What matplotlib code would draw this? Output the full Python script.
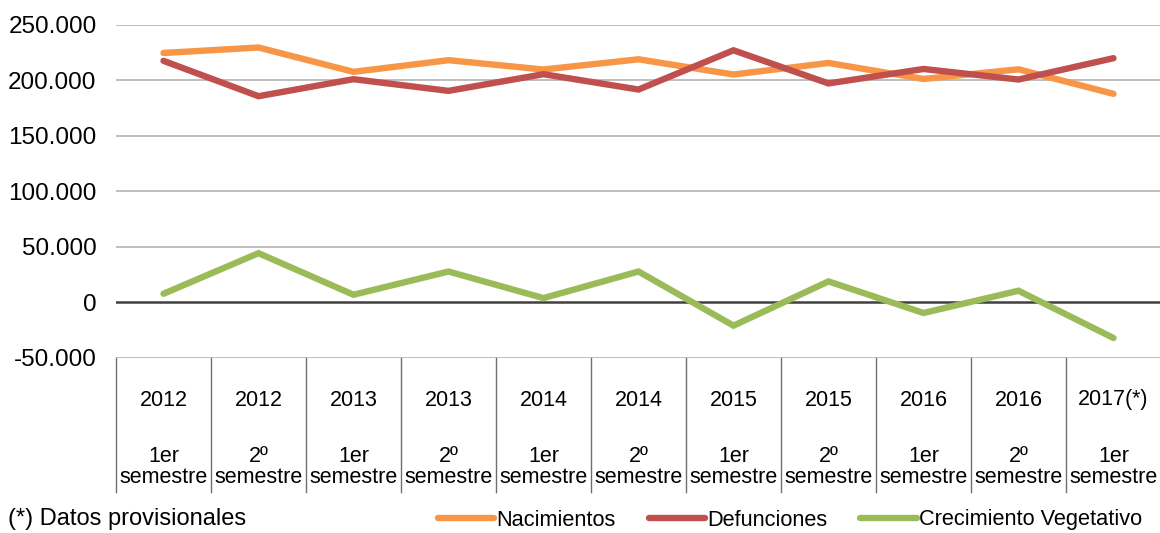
import numpy as np
import matplotlib
matplotlib.use("Agg")
from matplotlib import pyplot as plt
import matplotlib.transforms as mtransforms

plt.rcParams['font.family'] = ['Liberation Sans', 'DejaVu Sans']

# Datos (lectura aproximada del gráfico)
anios = ["2012", "2012", "2013", "2013", "2014", "2014", "2015", "2015", "2016", "2016", "2017(*)"]
semestres = ["1er\nsemestre", "2º\nsemestre"] * 5 + ["1er\nsemestre"]
nacimientos = [224400, 229300, 207400, 217900, 209500, 218700, 205000, 215400, 201000, 209700, 187600]
defunciones = [217300, 185500, 200800, 190300, 205300, 191500, 226800, 197000, 210000, 200500, 219700]
crecimiento = [7800, 44300, 6900, 27800, 3900, 27800, -20900, 18900, -9500, 10500, -32000]

c_nac = "#F79646"
c_def = "#C0504D"
c_cre = "#9BBB59"

fig = plt.figure(figsize=(11.6, 5.33), dpi=100)
ax = fig.add_axes([116/1160, 1 - 358/533, 1045/1160, (358 - 24.5)/533])

x = np.arange(len(anios))
lw = 4.6
ax.plot(x, nacimientos, color=c_nac, lw=lw, solid_capstyle='round', solid_joinstyle='miter', label="Nacimientos", zorder=3)
ax.plot(x, defunciones, color=c_def, lw=lw, solid_capstyle='round', solid_joinstyle='miter', label="Defunciones", zorder=4)
ax.plot(x, crecimiento, color=c_cre, lw=lw, solid_capstyle='round', solid_joinstyle='miter', label="Crecimiento Vegetativo", zorder=3)

ax.set_xlim(-0.5, len(anios) - 0.5)
ax.set_ylim(-50000, 250000)
yt = np.arange(-50000, 250001, 50000)
ax.set_yticks(yt)
ax.set_yticklabels([("{:,}".format(v).replace(",", ".") if v != 0 else "0") for v in yt], fontsize=17.5)
ax.tick_params(axis='y', length=0, pad=14)
ax.set_xticks([])
for s in ax.spines.values():
    s.set_visible(False)

for v in yt:
    if v == 0:
        ax.axhline(v, color="#404040", lw=1.8, zorder=2)
    else:
        ax.axhline(v, color="#BFBFBF", lw=1.4, zorder=1)

# tabla de categorías bajo el eje
trans = mtransforms.blended_transform_factory(ax.transData, ax.transAxes)
h_ax = (358 - 24.5)
y_bot = -(492 - 358) / h_ax
for k in range(len(anios) + 1):
    ax.plot([k - 0.5, k - 0.5], [0, y_bot], transform=trans, color="#6F6F6F", lw=1.0, clip_on=False)
for i in range(len(anios)):
    ax.text(i, -(400 - 358) / h_ax, anios[i], transform=trans, ha='center', va='center', fontsize=15.5)
    ax.text(i, -(467 - 358) / h_ax, semestres[i], transform=trans, ha='center', va='center',
            fontsize=15.5, linespacing=1.0)

fig.text(8/1160, 1 - 519/533, "(*) Datos provisionales", ha='left', va='center', fontsize=17)

fig.legend(loc='center', bbox_to_anchor=(790/1160, 1 - 520/533), ncol=3, frameon=False,
           fontsize=15.7, handlelength=2.6, handletextpad=0.1, columnspacing=1.5, borderpad=0)

fig.savefig("out.png", dpi=100)
